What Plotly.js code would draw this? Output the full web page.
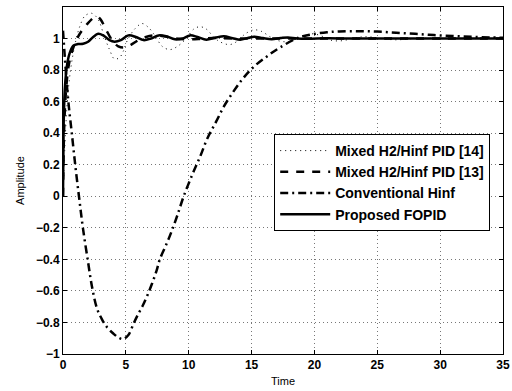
<!DOCTYPE html>
<html>
<head>
<meta charset="utf-8">
<script src="https://cdn.plot.ly/plotly-3.0.1.min.js"></script>
<style>html,body{margin:0;padding:0;background:#fff}#chart{width:512px;height:391px}</style>
</head>
<body>
<div id="chart"></div>
<script>
// Mixed H2/Hinf PID [14] (dotted)
var tDot = [0,0.3,0.6,1.0,1.35,1.75,2.3,2.8,3.3,3.7,4.1,4.5,4.8,5.1,5.7,6.3,6.8,7.3,7.9,8.5,9.1,9.8,10.4,10.9,11.4,12.1,12.75,13.3,13.9,14.5,15.2,15.8,16.5,17.2,17.8,18.5,19.2,19.9,20.6,21.3,22,22.8,23.7,24.5,25.5,26.5,28,30,32,35];
var yDot = [0,0.55,0.8,0.98,1.08,1.144,1.16,1.12,1.01,0.93,0.87,0.88,0.92,0.985,1.06,1.095,1.07,1.02,0.95,0.93,0.95,1.0,1.06,1.075,1.06,1.0,0.97,0.962,0.985,1.03,1.055,1.045,1.01,0.985,0.98,0.995,1.02,1.03,1.015,0.99,0.985,0.995,1.01,1.01,0.998,0.992,1.0,1.002,1.0,1.0];
// Mixed H2/Hinf PID [13] (dashed)
var tDash = [0,0.1,0.25,0.5,1.0,1.5,1.9,2.4,2.7,3.0,3.4,3.9,4.4,4.9,5.4,6.0,6.6,7.3,8,9,10,11,12,14,17,20,25,30,35];
var yDash = [0,0.45,0.68,0.85,0.98,1.05,1.09,1.13,1.14,1.12,1.06,0.99,0.95,0.943,0.96,0.99,1.01,1.02,1.015,1.0,0.995,0.998,1.003,1.0,1.0,1.0,1.0,1.0,1.0];
// Conventional Hinf (dash-dot)
var tConv = [0,0.2,0.4,0.7,1.0,1.3,1.6,2.0,2.3,2.7,3.1,3.5,4.0,4.5,4.8,5.2,5.6,5.9,6.3,6.7,7.1,7.45,7.7,8.25,8.7,9.1,9.6,10.3,10.9,11.5,12.2,12.8,13.5,14.2,14.9,15.6,16.2,16.8,17.3,18.3,19.1,19.9,21,22,23.5,25,26.5,28,29.5,31,32.5,34,35];
var yConv = [1.05,0.82,0.62,0.40,0.18,-0.02,-0.21,-0.42,-0.57,-0.71,-0.78,-0.83,-0.87,-0.90,-0.905,-0.88,-0.81,-0.76,-0.70,-0.63,-0.55,-0.47,-0.40,-0.30,-0.21,-0.12,0.0,0.14,0.25,0.37,0.476,0.57,0.657,0.735,0.80,0.85,0.885,0.92,0.945,0.99,1.015,1.028,1.04,1.045,1.047,1.044,1.037,1.03,1.022,1.016,1.011,1.007,1.005];
// Proposed FOPID (solid)
var tFo = [0,0.05,0.1,0.16,0.3,0.5,0.82,1.2,1.6,2.0,2.4,2.8,3.2,3.7,4.1,4.6,5.2,5.8,6.4,7.0,7.6,8.2,8.9,9.5,10.1,10.7,11.4,12.1,12.8,13.5,14.1,14.7,15.2,15.9,16.6,17.3,17.9,18.6,19.5,21,23,26,30,35];
var yFo = [0,0.45,0.6,0.7,0.82,0.9,0.955,0.965,0.967,0.98,1.01,1.03,1.02,0.99,0.98,0.99,1.02,1.01,0.99,1.0,1.02,1.015,0.995,1.0,1.02,1.01,0.993,1.005,1.015,1.002,0.993,1.003,1.012,1.003,0.996,1.003,1.007,1.0,0.998,1.002,1.0,1.0,1.0,1.0];

var names = ['Mixed H2/Hinf PID [14]','Mixed H2/Hinf PID [13]','Conventional Hinf','Proposed FOPID'];
var xTicks = [0,5,10,15,20,25,30,35];
var yTicks = [-1,-0.8,-0.6,-0.4,-0.2,0,0.2,0.4,0.6,0.8,1];

var traces = [
  {x:tDot,y:yDot,name:names[0],mode:'lines',line:{color:'#000',width:1,dash:'1px,4px',shape:'spline'}},
  {x:tDash,y:yDash,name:names[1],mode:'lines',line:{color:'#000',width:2.5,dash:'8px,8px',shape:'spline'}},
  {x:tConv,y:yConv,name:names[2],mode:'lines',line:{color:'#000',width:2.5,dash:'8px,4px,2px,4px',shape:'spline'}},
  {x:tFo,y:yFo,name:names[3],mode:'lines',line:{color:'#000',width:2.5,shape:'spline'}}
];
var tickFont = {family:'Liberation Sans, Arial, sans-serif',size:12,color:'#000',weight:'bold'};
var layout = {
  width:512,height:391,
  margin:{l:63,r:9,t:7,b:37},
  paper_bgcolor:'#fff',plot_bgcolor:'#fff',
  showlegend:true,
  legend:{x:0.48,xanchor:'left',y:0.634,yanchor:'top',bgcolor:'#fff',bordercolor:'#000',borderwidth:1,itemwidth:50,
          font:{family:'Liberation Sans, Arial, sans-serif',size:14,color:'#000',weight:'bold'}},
  xaxis:{range:[0,35],tickvals:xTicks,ticks:'inside',ticklen:4,tickcolor:'#000',mirror:'ticks',showline:true,linecolor:'#000',linewidth:1,
         showgrid:true,gridcolor:'#777',griddash:'1px,3px',gridwidth:1,zeroline:false,tickfont:tickFont,
         title:{text:'Time',font:{family:'Liberation Sans, Arial, sans-serif',size:11,color:'#000'},standoff:5}},
  yaxis:{range:[-1,1.2],tickvals:yTicks,ticks:'inside',ticklen:4,tickcolor:'#000',mirror:'ticks',showline:true,linecolor:'#000',linewidth:1,
         showgrid:true,gridcolor:'#777',griddash:'1px,3px',gridwidth:1,zeroline:false,tickfont:tickFont,
         title:{text:'Amplitude',font:{family:'Liberation Sans, Arial, sans-serif',size:11,color:'#000'},standoff:9}}
};
Plotly.newPlot('chart',traces,layout,{displayModeBar:false,staticPlot:true});
</script>
</body>
</html>
